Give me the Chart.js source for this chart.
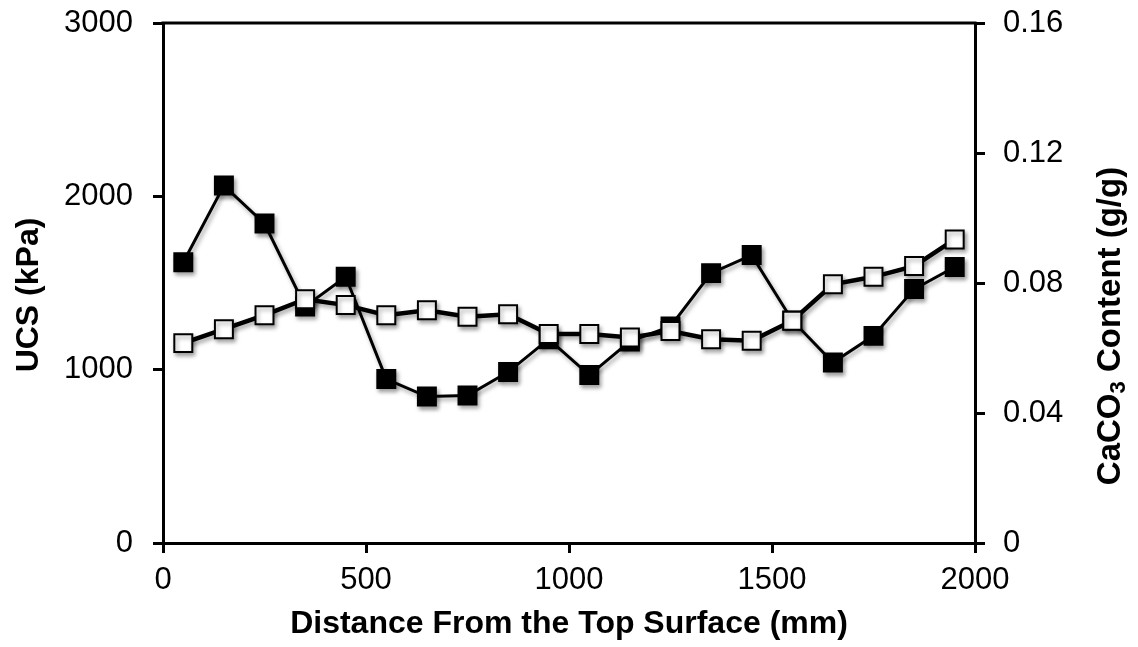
<!DOCTYPE html>
<html>
<head>
<meta charset="utf-8">
<script src="https://cdn.jsdelivr.net/npm/chart.js@4.4.1/dist/chart.umd.min.js"></script>
<style>
  html, body { margin: 0; padding: 0; background: #fff; }
  #wrap { width: 1138px; height: 647px; }
</style>
</head>
<body>
<div id="wrap"><canvas id="chart" width="1138" height="647"></canvas></div>
<script>
// depth below the top surface (mm)
const depth = [50, 150, 250, 350, 450, 550, 650, 750, 850, 950,
               1050, 1150, 1250, 1350, 1450, 1550, 1650, 1750, 1850, 1950];
// UCS (kPa) - filled squares, left axis
const ucs = [1620, 2062, 1843, 1365, 1536, 946, 845, 851, 986, 1176,
             969, 1163, 1249, 1557, 1661, 1284, 1041, 1195, 1465, 1592];
// CaCO3 content (g/g) - open squares, right axis
const caco3 = [0.0615, 0.0658, 0.0701, 0.0750, 0.0732, 0.0701, 0.0716, 0.0696, 0.0704, 0.0643,
               0.0643, 0.0632, 0.0652, 0.0627, 0.0622, 0.0684, 0.0796, 0.0819, 0.0852, 0.0934];

const xTicks = [0, 500, 1000, 1500, 2000];
const ucsTicks = [0, 1000, 2000, 3000];
const caTicks = [0, 0.04, 0.08, 0.12, 0.16];

const FONT = "'Liberation Sans', Arial, sans-serif";
const tickFont = { family: FONT, size: 31 };
const titleFont = { family: FONT, size: 32, weight: 'bold' };

const axisGrid = { drawOnChartArea: false, tickLength: 10, color: '#000', lineWidth: 3 };
const axisBorder = { display: true, color: '#000', width: 3 };

// soft drop shadow under lines and markers
const shadow = {
  id: 'shadow',
  beforeDatasetDraw(chart) {
    const ctx = chart.ctx;
    ctx.save();
    ctx.shadowColor = 'rgba(0,0,0,0.35)';
    ctx.shadowBlur = 4;
    ctx.shadowOffsetX = 2;
    ctx.shadowOffsetY = 3;
  },
  afterDatasetDraw(chart) {
    chart.ctx.restore();
  }
};

// draws rotated text made of [text, size, shift] parts, reading bottom-to-top
function vText(ctx, parts, cx, cy) {
  let total = 0;
  parts.forEach(p => { ctx.font = 'bold ' + p[1] + 'px ' + FONT; total += ctx.measureText(p[0]).width; });
  ctx.save();
  ctx.translate(cx, cy);
  ctx.rotate(-Math.PI / 2);
  ctx.fillStyle = '#000';
  ctx.textBaseline = 'middle';
  ctx.textAlign = 'left';
  let x = -total / 2;
  parts.forEach(p => {
    ctx.font = 'bold ' + p[1] + 'px ' + FONT;
    ctx.fillText(p[0], x, p[2]);
    x += ctx.measureText(p[0]).width;
  });
  ctx.restore();
}

// top frame line and the two y axis titles
const frame = {
  id: 'frame',
  afterDraw(chart) {
    const ctx = chart.ctx;
    const a = chart.chartArea;
    ctx.save();
    ctx.strokeStyle = '#000';
    ctx.lineWidth = 3;
    ctx.beginPath();
    ctx.moveTo(a.left - 1.5, a.top);
    ctx.lineTo(a.right + 1.5, a.top);
    ctx.stroke();
    ctx.restore();

    vText(ctx, [['UCS (kPa)', 32, 0]], 29, 295);
    vText(ctx, [['CaCO', 33, 0], ['3', 22, 8], [' Content (g/g)', 33, 0]], 1111, 326);
  }
};

const noPadV = s => { s.paddingTop = 0; s.paddingBottom = 0; };

new Chart(document.getElementById('chart'), {
  type: 'line',
  data: {
    datasets: [
      {
        label: 'CaCO3 Content',
        data: depth.map((d, i) => ({ x: d, y: caco3[i] })),
        yAxisID: 'y1',
        borderColor: '#000',
        borderWidth: 4.5,
        pointStyle: 'rect',
        pointRadius: 12.7,
        pointBackgroundColor: '#fff',
        pointBorderColor: '#000',
        pointBorderWidth: 2,
        tension: 0
      },
      {
        label: 'UCS',
        data: depth.map((d, i) => ({ x: d, y: ucs[i] })),
        yAxisID: 'y',
        borderColor: '#000',
        borderWidth: 3,
        pointStyle: 'rect',
        pointRadius: 12.7,
        pointBackgroundColor: '#000',
        pointBorderColor: '#000',
        pointBorderWidth: 2,
        tension: 0
      }
    ]
  },
  options: {
    responsive: false,
    animation: false,
    devicePixelRatio: 1,
    layout: { padding: { top: 23, left: 0, right: 0, bottom: 0 } },
    plugins: { legend: { display: false }, tooltip: { enabled: false } },
    scales: {
      x: {
        type: 'linear',
        min: 0, max: 2000,
        afterBuildTicks: s => { s.ticks = xTicks.map(v => ({ value: v })); },
        afterFit: s => { s.height = 104; s.paddingLeft = 0; s.paddingRight = 0; },
        ticks: { font: tickFont, color: '#000', padding: 9, maxRotation: 0, callback: v => String(v) },
        grid: axisGrid,
        border: axisBorder,
        title: { display: true, text: 'Distance From the Top Surface (mm)', font: titleFont, color: '#000', padding: { top: 0, bottom: 4 } }
      },
      y: {
        position: 'left',
        min: 0, max: 3000,
        afterBuildTicks: s => { s.ticks = ucsTicks.map(v => ({ value: v })); },
        afterFit: s => { s.width = 163; noPadV(s); },
        ticks: { font: tickFont, color: '#000', padding: 20, callback: v => String(v) },
        grid: axisGrid,
        border: axisBorder
      },
      y1: {
        position: 'right',
        min: 0, max: 0.16,
        afterBuildTicks: s => { s.ticks = caTicks.map(v => ({ value: v })); },
        afterFit: s => { s.width = 163; noPadV(s); },
        ticks: { font: tickFont, color: '#000', padding: 18, callback: v => String(+v.toFixed(2)) },
        grid: axisGrid,
        border: axisBorder
      }
    }
  },
  plugins: [shadow, frame]
});
</script>
</body>
</html>
